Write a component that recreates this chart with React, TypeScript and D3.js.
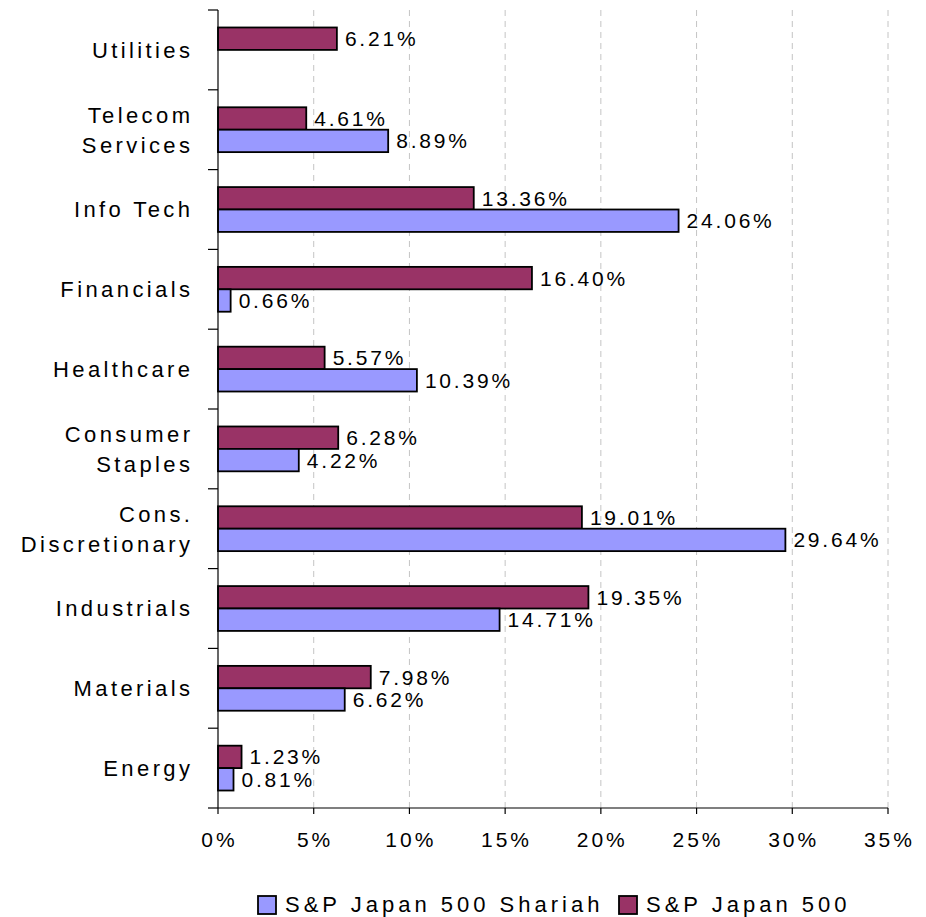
import React from "react";
import * as d3 from "d3";

const categories = [
  ["Utilities"],
  ["Telecom", "Services"],
  ["Info Tech"],
  ["Financials"],
  ["Healthcare"],
  ["Consumer", "Staples"],
  ["Cons.", "Discretionary"],
  ["Industrials"],
  ["Materials"],
  ["Energy"],
];
const japan500 = [6.21, 4.61, 13.36, 16.4, 5.57, 6.28, 19.01, 19.35, 7.98, 1.23];
const shariah = [null, 8.89, 24.06, 0.66, 10.39, 4.22, 29.64, 14.71, 6.62, 0.81];
const xTicks = [0, 5, 10, 15, 20, 25, 30, 35];
const seriesNames = ["S&P Japan 500 Shariah", "S&P Japan 500"];
const seriesColors = ["#9999FF", "#993366"];

const FONT = "'Liberation Sans', Arial, sans-serif";

export default function App() {
  const W = 926;
  const H = 917;
  const left = 218;
  const right = 888;
  const top = 10;
  const bottom = 808;

  const x = d3.scaleLinear().domain([0, 35]).range([left, right]);
  const y = d3
    .scaleBand<number>()
    .domain(d3.range(categories.length))
    .range([top, bottom])
    .paddingInner(0)
    .paddingOuter(0);
  const inner = d3
    .scaleBand<number>()
    .domain([0, 1])
    .range([0, y.bandwidth()])
    .paddingOuter(0.78)
    .paddingInner(0);

  const VLS = 2.8;
  const vfs = 21;
  const CLS = 3.4;
  const cfs = 22;

  const bars: React.ReactNode[] = [];
  categories.forEach((_, i) => {
    const vals = [japan500[i], shariah[i]];
    const colors = [seriesColors[1], seriesColors[0]];
    vals.forEach((v, j) => {
      if (v == null) return;
      const y0 = (y(i) as number) + (inner(j) as number);
      const h = inner.bandwidth();
      bars.push(
        <g key={`b${i}-${j}`}>
          <rect
            x={x(0)}
            y={y0}
            width={x(v) - x(0)}
            height={h}
            fill={colors[j]}
            stroke="#000"
            strokeWidth={1.8}
          />
          <text
            x={x(v) + 8}
            y={y0 + h / 2}
            dy="0.36em"
            fontSize={vfs}
            fontFamily={FONT}
            letterSpacing={VLS}
            fill="#000"
          >
            {v.toFixed(2) + "%"}
          </text>
        </g>
      );
    });
  });

  return (
    <svg width={W} height={H} style={{ display: "block", position: "absolute", left: 0, top: 0 }}>
      <rect width={W} height={H} fill="#fff" />
      {xTicks.slice(1).map((t) => (
        <line
          key={`g${t}`}
          x1={x(t)}
          x2={x(t)}
          y1={top}
          y2={bottom}
          stroke="#c4c4c4"
          strokeWidth={1}
          strokeDasharray="6,5"
        />
      ))}
      {bars}
      {/* y axis */}
      <line x1={left} x2={left} y1={top} y2={bottom} stroke="#000" strokeWidth={1.2} />
      {d3.range(categories.length + 1).map((k) => {
        const yy = k < categories.length ? (y(k) as number) : bottom;
        return <line key={`yt${k}`} x1={left - 10} x2={left} y1={yy} y2={yy} stroke="#000" strokeWidth={1.2} />;
      })}
      {/* x axis */}
      <line x1={left} x2={right} y1={bottom} y2={bottom} stroke="#000" strokeWidth={1.2} />
      {xTicks.map((t) => (
        <g key={`xt${t}`}>
          <line x1={x(t)} x2={x(t)} y1={bottom} y2={bottom + 6} stroke="#000" strokeWidth={1.2} />
          <text
            x={x(t) + VLS / 2}
            y={bottom + 31}
            dy="0.36em"
            textAnchor="middle"
            fontSize={vfs}
            fontFamily={FONT}
            letterSpacing={3}
          >
            {t + "%"}
          </text>
        </g>
      ))}
      {categories.map((lines, i) => {
        const cy = (y(i) as number) + y.bandwidth() / 2;
        const lh = 30;
        return (
          <text
            key={`c${i}`}
            textAnchor="end"
            fontSize={cfs}
            fontFamily={FONT}
            letterSpacing={CLS}
          >
            {lines.map((l, k) => (
              <tspan key={k} x={190 + CLS} y={cy + (k - (lines.length - 1) / 2) * lh} dy="0.36em">
                {l}
              </tspan>
            ))}
          </text>
        );
      })}
      {/* legend */}
      {[0, 1].map((s) => {
        const lx = s === 0 ? 258 : 619;
        return (
          <g key={`l${s}`}>
            <rect x={lx} y={896} width={18} height={18} fill={seriesColors[s]} stroke="#000" strokeWidth={1.8} />
            <text x={lx + 27} y={912} fontSize={22} fontFamily={FONT} letterSpacing={4}>
              {seriesNames[s]}
            </text>
          </g>
        );
      })}
    </svg>
  );
}
